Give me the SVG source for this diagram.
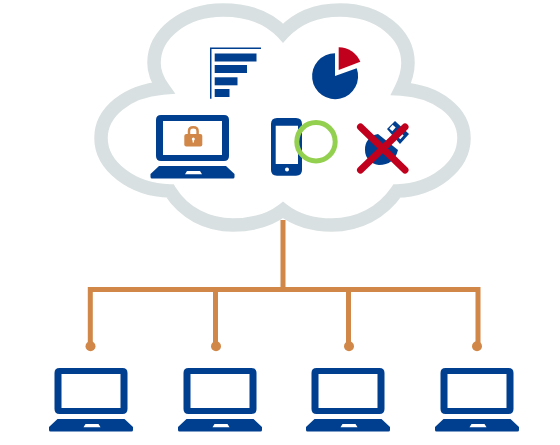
<svg xmlns="http://www.w3.org/2000/svg" width="560" height="445" viewBox="0 0 560 445">
<style>
.cloud{fill:#fff;stroke:#d9e0e1;stroke-width:13.5;stroke-linejoin:miter;stroke-miterlimit:10}
.line{fill:none;stroke:#d08748;stroke-width:5}
.dot{fill:#d08748}
.blue{fill:#003f8f}
.red{fill:#c0001d}
</style>
<defs>
<g id="laptop">
<path class="blue" fill-rule="evenodd" d="M161 115H224Q229 115 229 120V156Q229 161 224 161H161Q156 161 156 156V120Q156 115 161 115ZM163 121V155H222V121Z"/>
<path class="blue" fill-rule="evenodd" d="M159 166H226L234.500 174V177Q234.500 178.500 233 178.500H152Q150.500 178.500 150.500 177V174ZM187 171L185 174.300H202L200 171Z"/>
</g>
</defs>
<rect width="560" height="445" fill="#fff"/>
<g id="cloud">
<path class="cloud" d="M283 33C298 17 318 10 340 10C379 10 408 34 408 63C408 72 405 81 401 89C437 91 464 112 464 138C464 166 434 190 397 191C382 213 358 225 332 225C312 225 296 220 283 210C270 220 254 225 233 225C207 225 184 213 170 191C132 190 101 166 101 138C101 112 127 91 163 88C158 81 154 72 154 63C154 34 184 10 223 10C248 10 269 18 283 33Z"/>
</g>
<g id="connectors">
<path class="line" d="M283 220V289.500M90.300 346V289.500H478V346M215.500 289.500V346M348.500 289.500V346"/>
<circle class="dot" cx="90.500" cy="346.300" r="5"/>
<circle class="dot" cx="216" cy="346.300" r="5"/>
<circle class="dot" cx="349" cy="346.300" r="5"/>
<circle class="dot" cx="477" cy="346.300" r="5"/>
</g>
<g id="bar-chart">
<path class="blue" d="M210 47.500H261V49H211.500V98.700H210Z"/>
<rect class="blue" x="214.700" y="53.500" width="41.800" height="8"/>
<rect class="blue" x="214.700" y="65" width="32.300" height="8"/>
<rect class="blue" x="214.700" y="77.300" width="22.800" height="8"/>
<rect class="blue" x="214.700" y="89" width="14.800" height="8"/>
</g>
<g id="pie-chart">
<path class="blue" d="M335 53.200A23 23 0 1 0 356.700 68.300L335 76Z"/>
<path class="red" d="M338.700 47.200A23 23 0 0 1 360.300 61.800L338.700 70Z"/>
</g>
<g id="secure-laptop">
<use href="#laptop"/>
<path fill="none" stroke="#d08748" stroke-width="2.500" d="M189 135V131Q189 127.300 193.300 127.300Q197.600 127.300 197.600 131V135"/>
<rect x="184.300" y="134" width="18" height="12.500" rx="2" fill="#d08748"/>
<circle cx="193.300" cy="139" r="1.500" fill="#fff"/>
<rect x="192.600" y="139" width="1.400" height="3.500" fill="#fff"/>
</g>
<g id="phone">
<path class="blue" fill-rule="evenodd" d="M277 118H296Q302 118 302 124V170Q302 175.700 296 175.700H277Q271 175.700 271 170V124Q271 118 277 118ZM275.700 125.700V164H298V125.700Z"/>
<circle cx="287" cy="169.500" r="2" fill="#fff"/>
<circle cx="316" cy="141.700" r="19.200" fill="none" stroke="#94d050" stroke-width="5"/>
</g>
<g id="usb">
<path class="blue" d="M378 134L398 150Q394 165 379 165A15 15 0 0 1 365 150A15 15 0 0 1 378 134Z"/>
<path class="blue" d="M395 121L409 134L400 144L387 129Z"/>
<rect x="390" y="126" width="5" height="4" fill="#fff" transform="rotate(-48 392.500 128)"/>
<rect x="398" y="134" width="5" height="4" fill="#fff" transform="rotate(-48 400.500 136)"/>
<path fill="none" stroke="#c0001d" stroke-width="7" stroke-linecap="round" d="M360.500 127L405 170M405 127L360.500 170"/>
</g>
<g id="laptop-1"><use href="#laptop" transform="translate(-101.500 253)"/></g>
<g id="laptop-2"><use href="#laptop" transform="translate(27.500 253)"/></g>
<g id="laptop-3"><use href="#laptop" transform="translate(155.500 253)"/></g>
<g id="laptop-4"><use href="#laptop" transform="translate(284.500 253)"/></g>
</svg>
